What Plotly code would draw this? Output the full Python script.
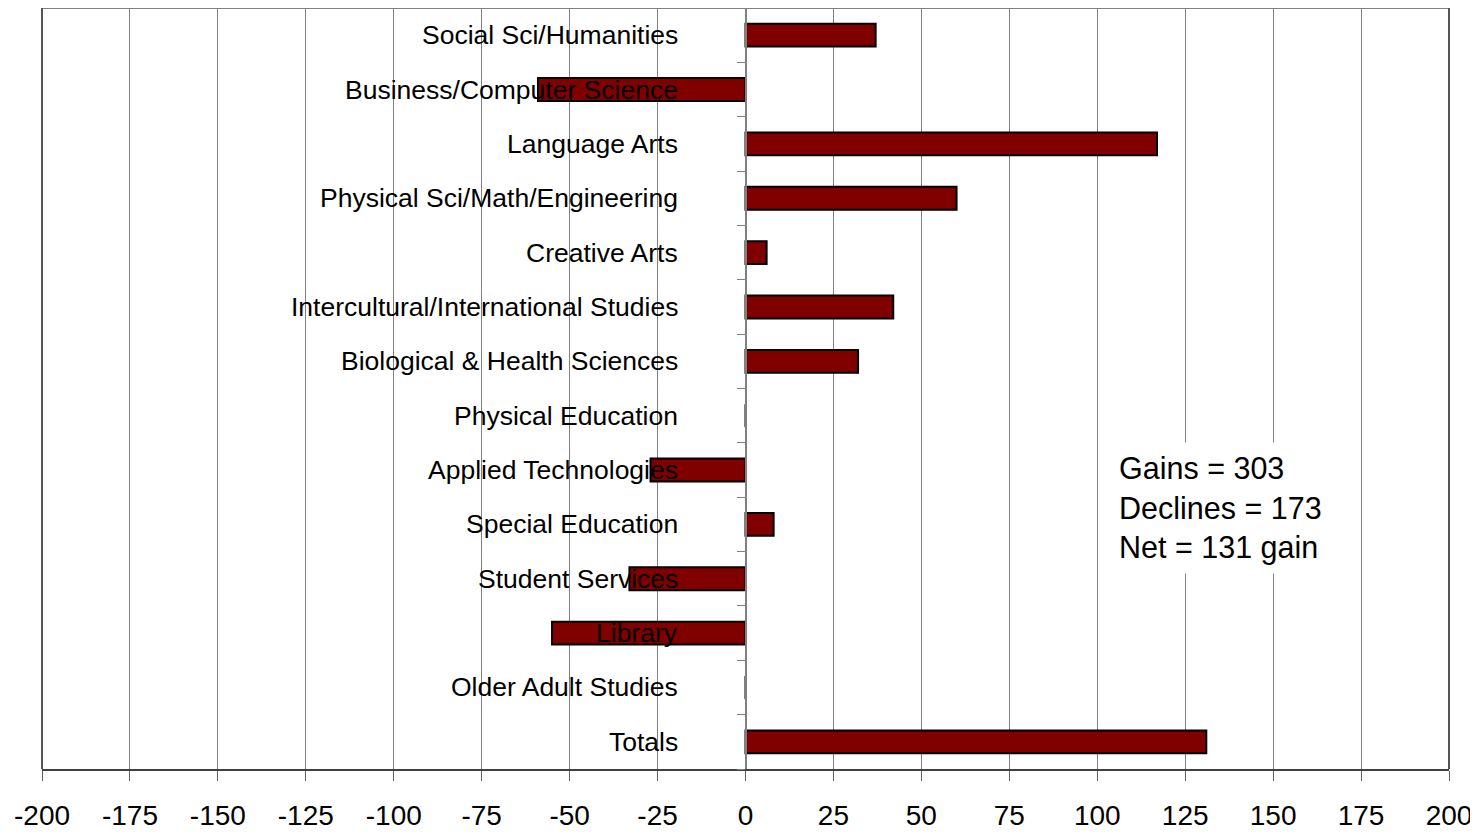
import plotly.graph_objects as go

categories = [
    "Social Sci/Humanities",
    "Business/Computer Science",
    "Language Arts",
    "Physical Sci/Math/Engineering",
    "Creative Arts",
    "Intercultural/International Studies",
    "Biological & Health Sciences",
    "Physical Education",
    "Applied Technologies",
    "Special Education",
    "Student Services",
    "Library",
    "Older Adult Studies",
    "Totals",
]
changes = [37, -59, 117, 60, 6, 42, 32, 0, -27, 8, -33, -55, 0, 131]
x_ticks = list(range(-200, 201, 25))
summary_lines = ["Gains = 303", "Declines = 173", "Net = 131 gain"]

FONT = "Liberation Sans, Arial, sans-serif"
positions = list(range(len(categories)))

fig = go.Figure()
fig.add_trace(go.Bar(
    x=changes,
    y=positions,
    orientation="h",
    marker=dict(color="#800000", line=dict(color="black", width=2)),
    width=0.42,
    hoverinfo="x",
    showlegend=False,
))

# category labels placed left of the zero line
for p, c in zip(positions, categories):
    fig.add_annotation(
        x=0, y=p, xref="x", yref="y", text=c, showarrow=False,
        xanchor="right", yanchor="middle", xshift=-66,
        font=dict(family=FONT, size=26.5, color="black"),
    )

fig.add_annotation(
    x=103.5, y=8.7, xref="x", yref="y",
    text="<br>".join(summary_lines), showarrow=False,
    xanchor="left", yanchor="middle", align="left",
    bgcolor="white", borderpad=8,
    font=dict(family=FONT, size=30.5, color="black"),
)

fig.update_xaxes(
    range=[-200, 200],
    tickvals=x_ticks,
    ticktext=[str(v) for v in x_ticks],
    showgrid=True, gridcolor="#808080", gridwidth=1,
    zeroline=False,
    showline=True, linecolor="#404040", linewidth=2,
    ticks="outside", ticklen=10, tickcolor="#606060", tickwidth=1,
    ticklabelstandoff=10,
    tickfont=dict(family=FONT, size=28, color="black"),
    fixedrange=True,
)
fig.update_yaxes(
    range=[len(categories) - 0.5, -0.5],
    tickvals=[i + 0.5 for i in range(-1, len(categories))],
    showticklabels=False,
    showgrid=False, zeroline=False,
    showline=True, linecolor="#808080", linewidth=1.5,
    ticks="outside", ticklen=8, tickcolor="#808080", tickwidth=1,
    anchor="free", position=0.5,
    fixedrange=True,
)

# plot frame: top gray line, left and right darker edges
fig.add_shape(type="line", xref="paper", yref="paper", x0=0, x1=1, y0=1, y1=1,
              line=dict(color="#808080", width=2))
fig.add_shape(type="line", xref="paper", yref="paper", x0=0, x1=0, y0=0, y1=1,
              line=dict(color="#555555", width=2))
fig.add_shape(type="line", xref="paper", yref="paper", x0=1, x1=1, y0=0, y1=1,
              line=dict(color="#555555", width=2))

fig.update_layout(
    width=1471, height=828,
    margin=dict(l=34, r=30, t=0, b=67),
    paper_bgcolor="white", plot_bgcolor="white",
    font=dict(family=FONT, color="black"),
    bargap=0.58,
)

fig.write_html("out.html")
